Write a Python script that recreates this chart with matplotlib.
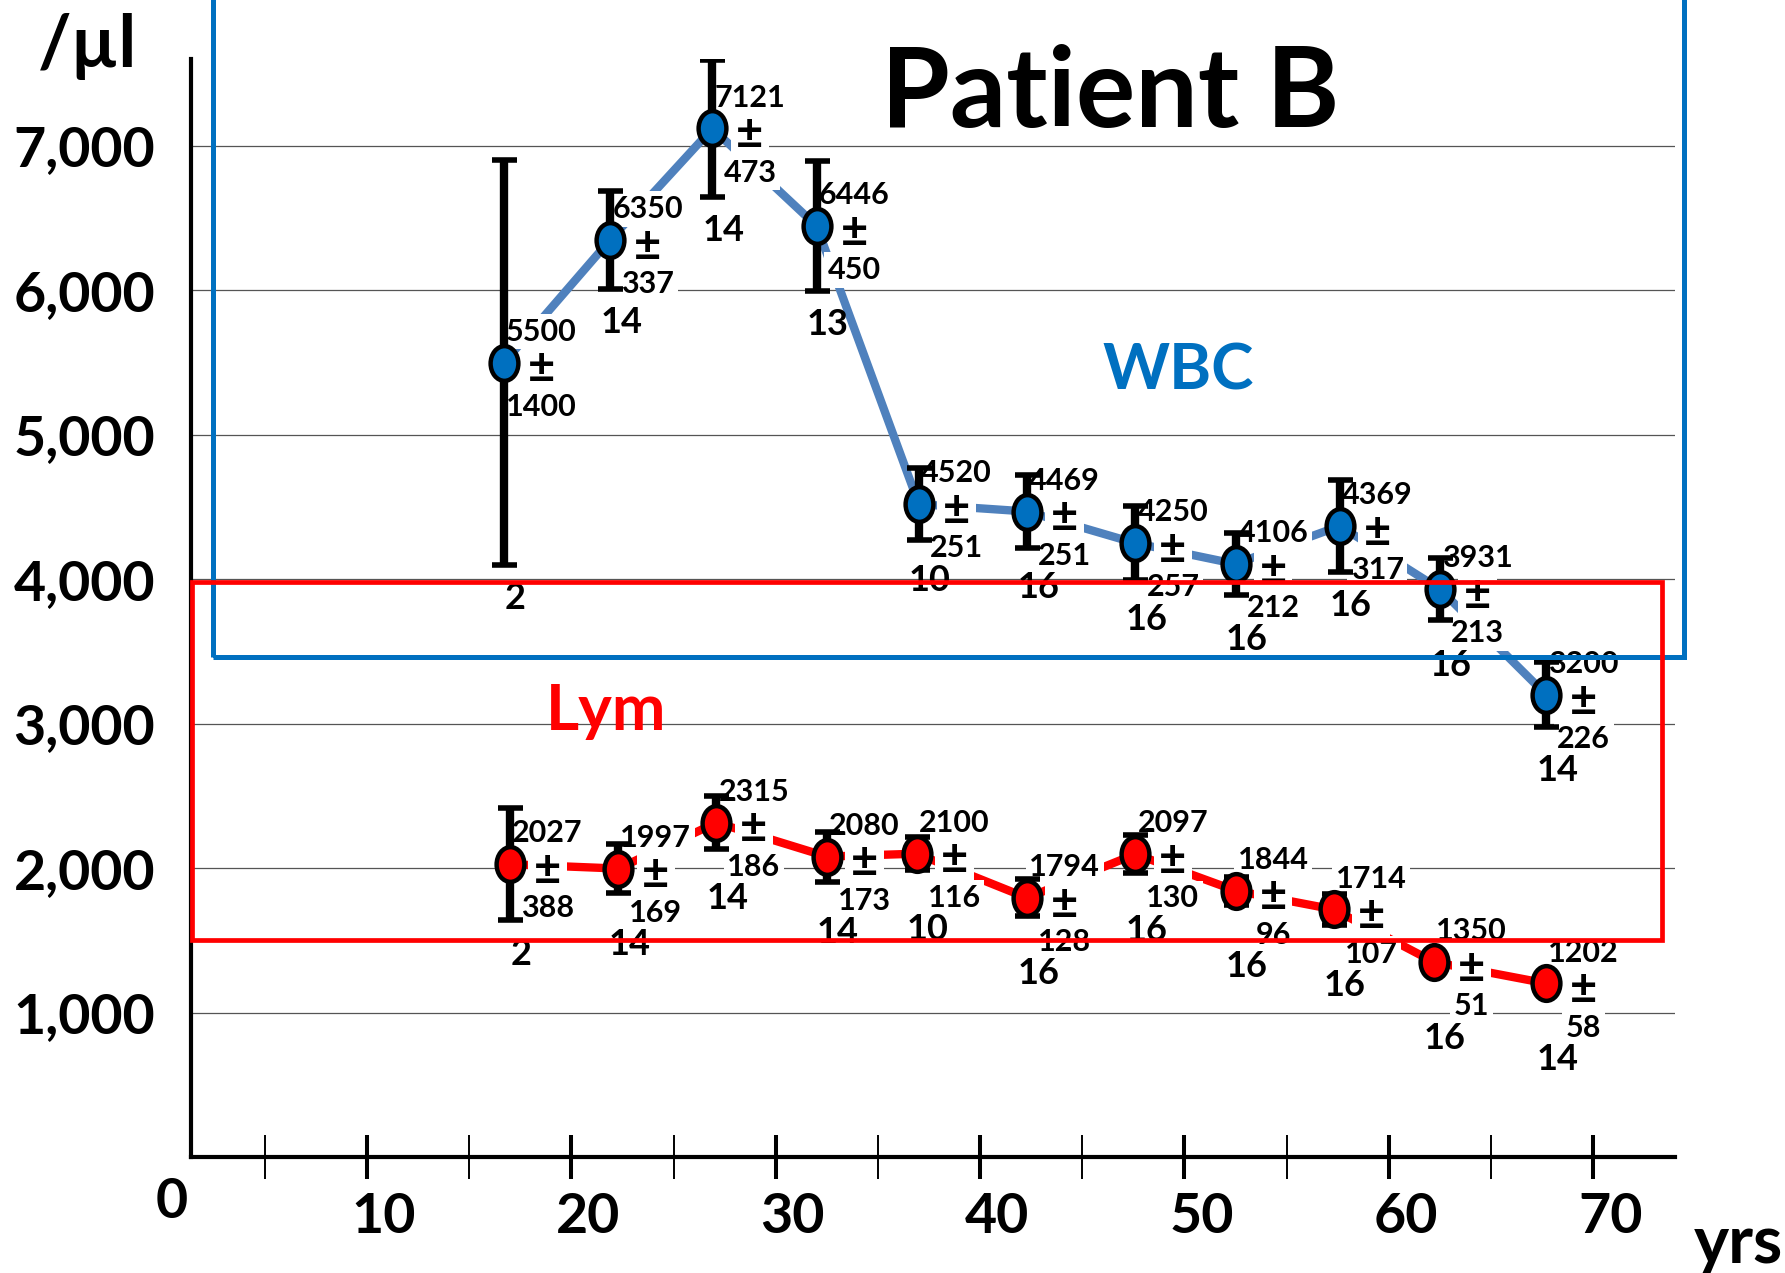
import matplotlib.pyplot as plt
from matplotlib.path import Path
from matplotlib.patches import Rectangle
from matplotlib.transforms import Affine2D, ScaledTranslation, blended_transform_factory

plt.rcParams['font.family'] = ['Lato', 'DejaVu Sans']
plt.rcParams['font.weight'] = 'bold'

# WBC by age: mean, SD and number of samples
wbc_age = [16.7, 21.9, 26.9, 32.0, 37.0, 42.3, 47.6, 52.5, 57.6, 62.5, 67.7]
wbc_mean = [5500, 6350, 7121, 6446, 4520, 4469, 4250, 4106, 4369, 3931, 3200]
wbc_sd = [1400, 337, 473, 450, 251, 251, 257, 212, 317, 213, 226]
wbc_n = [2, 14, 14, 13, 10, 16, 16, 16, 16, 16, 14]

# lymphocytes by age
lym_age = [17.0, 22.3, 27.1, 32.5, 36.9, 42.3, 47.6, 52.5, 57.3, 62.2, 67.7]
lym_mean = [2027, 1997, 2315, 2080, 2100, 1794, 2097, 1844, 1714, 1350, 1202]
lym_sd = [388, 169, 186, 173, 116, 128, 130, 96, 107, 51, 58]
lym_n = [2, 14, 14, 14, 10, 16, 16, 16, 16, 16, 14]

y_ticks = [1000, 2000, 3000, 4000, 5000, 6000, 7000]
x_major = [10, 20, 30, 40, 50, 60, 70]
x_minor = [5, 15, 25, 35, 45, 55, 65]

W, H = 1785, 1273
fig = plt.figure(figsize=(W / 100, H / 100), dpi=100)
ax = fig.add_axes([191 / W, 1 - 1157 / H, (1675 - 191) / W, (1157 - 59) / H])
ax.set_xlim(1.39, 74.0)
ax.set_ylim(0, 7602)

for side in ['top', 'right']:
    ax.spines[side].set_visible(False)
for side in ['left', 'bottom']:
    ax.spines[side].set_linewidth(3)

ax.set_yticks(y_ticks, [f'{v:,}' for v in y_ticks])
ax.yaxis.grid(True, color='#555555', lw=0.9)
ax.set_axisbelow(True)
ax.tick_params(axis='y', length=0, pad=26, labelsize=40)

ax.set_xticks(x_major, [str(v) for v in x_major])
ax.set_xticks(x_minor, minor=True)
ax.tick_params(axis='x', which='major', direction='inout', length=31.7, width=2.9,
               pad=9, labelsize=40)
ax.tick_params(axis='x', which='minor', direction='inout', length=31.7, width=1.4)
for lbl in ax.get_xticklabels():
    lbl.set_transform(lbl.get_transform() + ScaledTranslation(0.17, 0, fig.dpi_scale_trans))

ax.annotate('0', xy=(0, 0), xycoords=blended_transform_factory(ax.transData, ax.transAxes),
            xytext=(6.8, -28.8), textcoords='offset points', ha='center',
            va='center_baseline', fontsize=40, annotation_clip=False)

# tall oval marker
oval = Path.unit_circle().transformed(Affine2D().scale(0.8, 1.0))
box = dict(boxstyle='square,pad=0.12', fc='white', ec='none')

px_per_unit = (ax.transData.transform((0, 1000))[1] - ax.transData.transform((0, 0))[1]) / 1000


def draw_series(age, mean, sd, n, line_color, face):
    ax.plot(age, mean, color=line_color, lw=6, zorder=2, solid_capstyle='butt')
    ax.errorbar(age, mean, yerr=sd, fmt='none', ecolor='black', elinewidth=6,
                capsize=9, capthick=4, zorder=4)
    ax.plot(age, mean, ls='none', marker=oval, ms=25, mfc=face, mec='black',
            mew=3.2, zorder=5)
    for x, m, s, k in zip(age, mean, sd, n):
        kw = dict(xy=(x, m), textcoords='offset points', ha='center',
                  va='center_baseline', bbox=box, zorder=3)
        ax.annotate(str(m), xytext=(27, 24), fontsize=22, **kw)
        ax.annotate('±', xytext=(27, -2), fontsize=34, **kw)
        ax.annotate(str(s), xytext=(27, -30), fontsize=22, **kw)
        drop = (max(s * px_per_unit, 42) + 31) * 0.72
        ax.annotate(str(k), xy=(x, m), xytext=(8, -drop), textcoords='offset points',
                    ha='center', va='center_baseline', fontsize=26, zorder=6)


draw_series(wbc_age, wbc_mean, wbc_sd, wbc_n, '#4F81BD', '#0070C0')
draw_series(lym_age, lym_mean, lym_sd, lym_n, '#FF0000', '#FF0000')

fig.text(38 / W, 1 - 67 / H, '/µl', fontsize=52, ha='left', va='baseline')
fig.text(1110 / W, 1 - 127 / H, 'Patient B', fontsize=80, ha='center', va='baseline')
fig.text(1178 / W, 1 - 390 / H, 'WBC', fontsize=46, color='#0070C0', ha='center', va='baseline')
fig.text(606 / W, 1 - 730 / H, 'Lym', fontsize=46, color='#FF0000', ha='center', va='baseline')
fig.text(1694 / W, 1 - 1263 / H, 'yrs', fontsize=48, ha='left', va='baseline')

# outline boxes around the two groups
fig.add_artist(Rectangle((213 / W, 1 - 657 / H), (1684 - 213) / W, (657 + 10) / H,
                         transform=fig.transFigure, fill=False, ec='#0070C0', lw=3.6, zorder=10))
fig.add_artist(Rectangle((192 / W, 1 - 940 / H), (1662 - 192) / W, (940 - 582) / H,
                         transform=fig.transFigure, fill=False, ec='#FF0000', lw=3.4, zorder=10))

fig.savefig('out.png', dpi=100)
